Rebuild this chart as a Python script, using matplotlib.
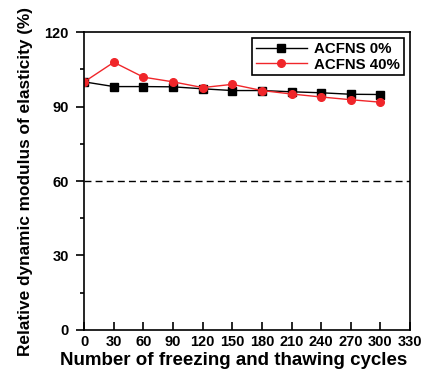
import matplotlib
matplotlib.use("Agg")
import matplotlib.pyplot as plt
from matplotlib.ticker import MultipleLocator

plt.rcParams['font.family'] = ['Liberation Sans', 'DejaVu Sans']
plt.rcParams['font.weight'] = 'bold'

cycles = [0, 30, 60, 90, 120, 150, 180, 210, 240, 270, 300]
acfns_0 = [100.0, 98.1, 98.1, 98.0, 97.2, 96.5, 96.5, 96.0, 95.6, 95.0, 94.9]
acfns_40 = [100.0, 107.9, 101.9, 100.0, 97.7, 99.0, 96.5, 95.1, 93.9, 92.8, 91.8]

fig = plt.figure(figsize=(4.21, 3.71), dpi=100)
ax = fig.add_axes([0.2, 0.111, 0.774, 0.802])

ax.plot(cycles, acfns_0, color='black', marker='s', markersize=5.5, linewidth=1, label='ACFNS 0%')
ax.plot(cycles, acfns_40, color='#f0262a', marker='o', markersize=5.5, linewidth=1, label='ACFNS 40%')
ax.axhline(60, color='black', linestyle='--', linewidth=1, dashes=(5, 3))

ax.set_xlim(0, 330)
ax.set_ylim(0, 120)
ax.xaxis.set_major_locator(MultipleLocator(30))
ax.yaxis.set_major_locator(MultipleLocator(30))
ax.yaxis.set_minor_locator(MultipleLocator(15))
ax.tick_params(axis='x', direction='in', length=6, width=1.2, labelsize=10.5, pad=4)
ax.tick_params(axis='y', which='major', direction='out', length=6, width=1.2, labelsize=10.5, pad=5)
ax.tick_params(axis='y', which='minor', direction='out', length=3, width=1.2)
for s in ax.spines.values():
    s.set_linewidth(1.2)

ax.set_xlabel('Number of freezing and thawing cycles', fontsize=13.5, fontweight='bold', labelpad=1)
ax.xaxis.set_label_coords(0.46, -0.075)
ax.set_ylabel('Relative dynamic modulus of elasticity (%)', fontsize=12.4, fontweight='bold', labelpad=8)

leg = ax.legend(loc='upper right', fontsize=10.8, fancybox=False, edgecolor='black',
                framealpha=1, handlelength=3.4, borderpad=0.25, labelspacing=0.1,
                handletextpad=0.5, borderaxespad=0.4)
leg.get_frame().set_linewidth(1.2)

fig.savefig('out.png', dpi=100)
